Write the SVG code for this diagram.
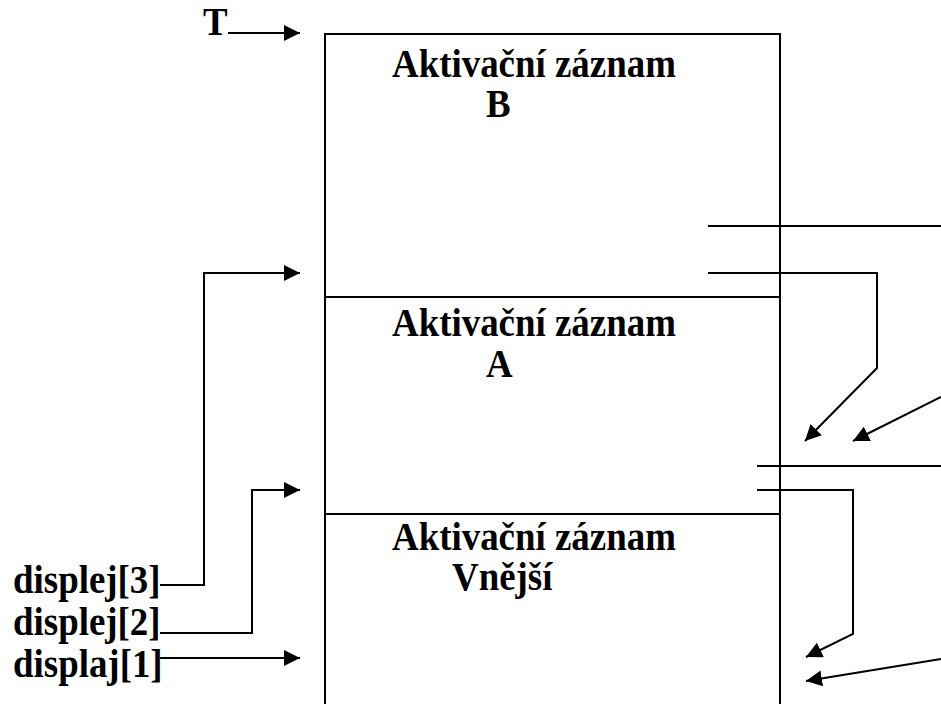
<svg xmlns="http://www.w3.org/2000/svg" width="941" height="704" viewBox="0 0 941 704">
<style>
.t{font-family:"Liberation Serif","Times New Roman",serif;font-weight:bold;font-size:41px;fill:#000}
.box{fill:none;stroke:#000;stroke-width:2}
.c{fill:none;stroke:#000;stroke-width:2}
.a{fill:none;stroke:#000;stroke-width:2;marker-end:url(#ah)}
</style>
<defs>
<marker id="ah" markerUnits="userSpaceOnUse" markerWidth="17" markerHeight="17" refX="16" refY="8" orient="auto" viewBox="0 0 17 17">
<path d="M0,0 L16,8 L0,16 z" fill="#000"/>
</marker>
</defs>
<rect width="941" height="704" fill="#fff"/>
<g id="recordB">
<path class="box" d="M325,705 V34 H780 V297"/>
<text class="t" transform="translate(392,77) scale(0.9,1)">Aktivační záznam</text>
<text class="t" transform="translate(486,117) scale(0.9,1)">B</text>
</g>
<g id="recordA">
<path class="box" d="M325,297 H780 V514"/>
<text class="t" transform="translate(392,336) scale(0.9,1)">Aktivační záznam</text>
<text class="t" transform="translate(486,377) scale(0.9,1)">A</text>
</g>
<g id="recordOuter">
<path class="box" d="M325,514 H780 V705"/>
<text class="t" transform="translate(392,550) scale(0.9,1)">Aktivační záznam</text>
<text class="t" transform="translate(452,590) scale(0.9,1)">Vnější</text>
</g>
<g id="labelT"><text class="t" transform="translate(203,35) scale(0.9,1)">T</text></g>
<g id="display3"><text class="t" transform="translate(13,593) scale(0.9,1)">displej[3]</text></g>
<g id="display2"><text class="t" transform="translate(13,635) scale(0.9,1)">displej[2]</text></g>
<g id="display1"><text class="t" transform="translate(13,677) scale(0.9,1)">displaj[1]</text></g>
<g id="connectors">
<path class="a" d="M228,33 H300"/>
<path class="a" d="M160,585 H204 V273 H300"/>
<path class="a" d="M160,633 H252 V490 H300"/>
<path class="a" d="M160,658 H300"/>
<path class="c" d="M708,226 H941"/>
<path class="a" d="M708,273 H877 V368 L805,441"/>
<path class="a" d="M941,397 L853,441"/>
<path class="c" d="M757,466 H941"/>
<path class="a" d="M757,490 H853 V634 L806,657"/>
<path class="a" d="M941,659 L806,681"/>
</g>
</svg>
